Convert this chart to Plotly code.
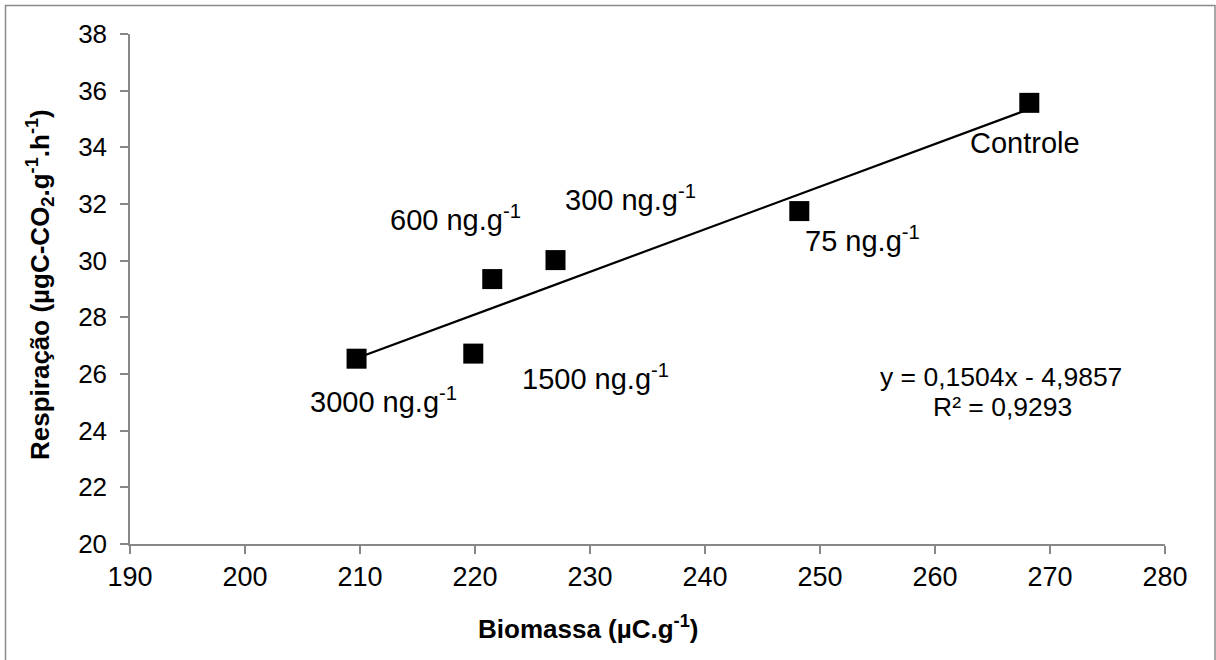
import plotly.graph_objects as go

# Biomass (x) vs. respiration (y) for each dose
doses = ["3000 ng.g<sup>-1</sup>", "1500 ng.g<sup>-1</sup>", "600 ng.g<sup>-1</sup>",
         "300 ng.g<sup>-1</sup>", "75 ng.g<sup>-1</sup>", "Controle"]
biomassa = [209.7, 219.85, 221.5, 227.0, 248.2, 268.2]
respiracao = [26.54, 26.72, 29.35, 30.02, 31.75, 35.57]

# Linear trend fitted to the points
SLOPE = 0.1504
INTERCEPT = -4.9857
R2 = 0.9293

# Label anchor points (left edge, vertical middle) in data units
label_x = [205.5, 223.9, 212.4, 227.65, 248.5, 262.9]
label_y = [25.08, 25.89, 31.51, 32.21, 30.77, 34.15]

x_ticks = list(range(190, 281, 10))
y_ticks = list(range(20, 39, 2))

FONT = "Liberation Sans, Arial, sans-serif"
AXIS_GRAY = "#878787"

W, H = 1216, 660
L, R, T, B = 130, 51, 34, 116
PW, PH = W - L - R, H - T - B

def px_to_paper(px, py):
    return (px - L) / PW, (H - B - py) / PH

fig = go.Figure()

x_line = [min(biomassa), max(biomassa)]
y_line = [SLOPE * v + INTERCEPT for v in x_line]
fig.add_trace(go.Scatter(x=x_line, y=y_line, mode="lines",
                         line=dict(color="black", width=2.2),
                         hoverinfo="skip", showlegend=False))

fig.add_trace(go.Scatter(x=biomassa, y=respiracao, mode="markers",
                         marker=dict(symbol="square", size=20, color="black"),
                         showlegend=False))

for txt, lx, ly in zip(doses, label_x, label_y):
    fig.add_annotation(x=lx, y=ly, xref="x", yref="y", text=txt,
                       showarrow=False, xanchor="left", yanchor="middle",
                       font=dict(family=FONT, size=29, color="black"))

sign = "-" if INTERCEPT < 0 else "+"
eq_text = f"y = {SLOPE:.4f}x {sign} {abs(INTERCEPT):.4f}".replace(".", ",")
r2_text = f"R² = {R2:.4f}".replace(".", ",")
ex, ey = px_to_paper(1001, 377)
fig.add_annotation(x=ex, y=ey, xref="paper", yref="paper", text=eq_text,
                   showarrow=False, xanchor="center", yanchor="middle",
                   font=dict(family=FONT, size=26.5, color="black"))
rx, ry = px_to_paper(1002, 407)
fig.add_annotation(x=rx, y=ry, xref="paper", yref="paper", text=r2_text,
                   showarrow=False, xanchor="center", yanchor="middle",
                   font=dict(family=FONT, size=26.5, color="black"))

# Axis titles
tx, ty = px_to_paper(588, 627)
fig.add_annotation(x=tx, y=ty, xref="paper", yref="paper",
                   text="<b>Biomassa (µC.g<sup>-1</sup>)</b>",
                   showarrow=False, xanchor="center", yanchor="middle",
                   font=dict(family=FONT, size=26, color="black"))
yx, yy = px_to_paper(40, 285)
fig.add_annotation(x=yx, y=yy, xref="paper", yref="paper",
                   text="<b>Respiração (µgC-CO<sub>2</sub>.g<sup>-1</sup>.h<sup>-1</sup>)</b>",
                   textangle=-90, showarrow=False, xanchor="center", yanchor="middle",
                   font=dict(family=FONT, size=26, color="black"))

# Outer chart border
bx0, by0 = px_to_paper(5.5, 662)
bx1, by1 = px_to_paper(1215, 5.5)
fig.add_shape(type="rect", xref="paper", yref="paper",
              x0=bx0, y0=by0, x1=bx1, y1=by1,
              line=dict(color="#8a8a8a", width=1.5), layer="below")

fig.update_layout(
    width=W, height=H,
    margin=dict(l=L, r=R, t=T, b=B),
    paper_bgcolor="white", plot_bgcolor="white",
    font=dict(family=FONT, color="black"),
)
fig.update_xaxes(range=[190, 280], tickvals=x_ticks, showgrid=False, zeroline=False,
                 showline=True, linecolor=AXIS_GRAY, linewidth=1.5,
                 ticks="outside", ticklen=8, tickwidth=1.5, tickcolor=AXIS_GRAY,
                 tickfont=dict(family=FONT, size=27, color="black"))
fig.update_yaxes(range=[20, 38], tickvals=y_ticks, showgrid=False, zeroline=False,
                 showline=True, linecolor=AXIS_GRAY, linewidth=1.5,
                 ticks="outside", ticklen=8, tickwidth=1.5, tickcolor=AXIS_GRAY,
                 ticklabelstandoff=8,
                 tickfont=dict(family=FONT, size=26, color="black"))

fig.write_html("out.html")
